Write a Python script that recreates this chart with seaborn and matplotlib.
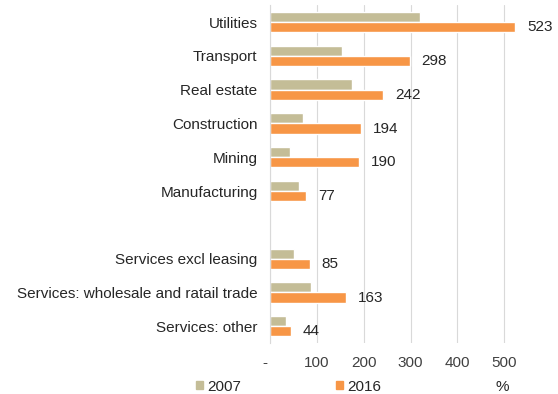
import pandas as pd
import matplotlib
matplotlib.use("Agg")
import matplotlib.pyplot as plt
import seaborn as sns

# sectors, top to bottom (blank entry = gap row)
sectors = ["Utilities", "Transport", "Real estate", "Construction", "Mining",
           "Manufacturing", " ", "Services excl leasing",
           "Services: wholesale and ratail trade", "Services: other"]
real_sectors = [s for s in sectors if s.strip()]
vals_2007 = [320, 154, 174, 71, 43, 62, 51, 87, 34]
vals_2016 = [523, 298, 242, 194, 190, 77, 85, 163, 44]
years = ["2007", "2016"]
colors = ["#C4BD97", "#F79646"]

df = pd.DataFrame({
    "sector": real_sectors * 2,
    "year": ["2007"] * len(real_sectors) + ["2016"] * len(real_sectors),
    "value": vals_2007 + vals_2016,
})

sns.set_style("white")
plt.rcParams["font.family"] = ["Liberation Sans", "DejaVu Sans"]

fig = plt.figure(figsize=(5.58, 3.94), dpi=100)
ax = fig.add_axes([0.484, 0.129, 0.487, 0.858])

sns.barplot(data=df, x="value", y="sector", hue="year", order=sectors,
            hue_order=years, palette=colors, width=0.6, orient="h",
            saturation=1, ax=ax, legend=False)

# value labels only on the 2016 bars
ax.bar_label(ax.containers[1], labels=[str(v) for v in vals_2016],
             padding=8.5, fontsize=11, color="#262626")

ax.set_xlim(0, 580)
ax.set_xticks([0, 100, 200, 300, 400, 500])
ax.set_xticklabels(["-  ", "100", "200", "300", "400", "500"])
ax.tick_params(axis="x", length=0, labelsize=11, colors="#404040", pad=9)
ax.tick_params(axis="y", length=0, labelsize=11, colors="#262626", pad=9)
ax.xaxis.grid(True, color="#D9D9D9", linewidth=0.8)
ax.set_axisbelow(True)
for side in ["top", "right", "bottom"]:
    ax.spines[side].set_visible(False)
ax.spines["left"].set_color("#D9D9D9")
ax.set_xlabel("")
ax.set_ylabel("")

handles = [plt.Rectangle((0, 0), 1, 1, color=c) for c in colors]
fig.legend(handles, years, loc="center", bbox_to_anchor=(0.517, 0.019),
           ncol=2, frameon=False, fontsize=11, handlelength=0.45,
           handleheight=0.45, handletextpad=0.3, columnspacing=6.2,
           borderpad=0, borderaxespad=0)
fig.text(0.9, 0.019, "%", ha="center", va="center", fontsize=11,
         color="#262626")

fig.savefig("out.png", dpi=100)
